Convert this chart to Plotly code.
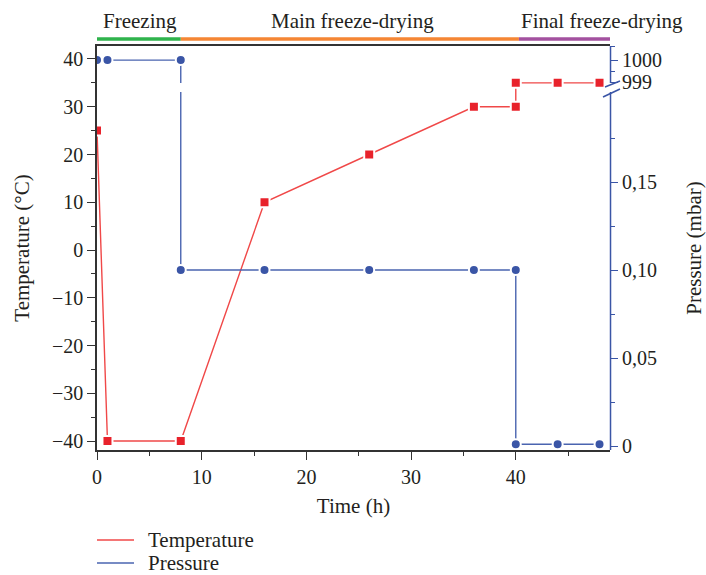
import plotly.graph_objects as go

# ---------------- data ----------------
temp_time = [0, 1, 8, 16, 26, 36, 40, 40, 44, 48]
temp_vals = [25, -40, -40, 10, 20, 30, 30, 35, 35, 35]

pres_time = [0, 1, 8, 8, 16, 26, 36, 40, 40, 44, 48]
pres_vals = [1000, 1000, 1000, 0.10, 0.10, 0.10, 0.10, 0.10, 0.001, 0.001, 0.001]

series_names = ["Temperature", "Pressure"]

phase_names = ["Freezing", "Main freeze-drying", "Final freeze-drying"]
phase_bounds = [0, 8, 40.3, 49]
phase_colors = ["#2fb34c", "#f58634", "#a3519f"]

left_ticks = [-40, -30, -20, -10, 0, 10, 20, 30, 40]
x_ticks = [0, 10, 20, 30, 40]
p_ticks_low = [0, 0.05, 0.10, 0.15]
p_ticks_low_text = ["0", "0,05", "0,10", "0,15"]
p_ticks_high = [999, 1000]
p_ticks_high_text = ["999", "1000"]

# broken-axis transform for the pressure axis
BREAK_BASE = 0.2068
HIGH_STEP = 0.0125


def pmap(p):
    if p >= 999:
        return BREAK_BASE + (p - 999) * HIGH_STEP
    return p


RED = "#e8222b"
RED_LINE = "#f04848"
BLUE = "#3a55a6"
BLUE_LINE = "#4a64b0"
INK = "#231f20"
FONT = "Liberation Serif"

# plot-area pixel geometry (for paper-coordinate decorations)
PL, PR, PT, PB = 97, 610, 46, 450
PW, PH = PR - PL, PB - PT


def px(x):
    return (x - PL) / PW


def py(y):
    return (PB - y) / PH


fig = go.Figure()

fig.add_trace(go.Scatter(
    x=temp_time, y=temp_vals, mode="lines+markers", name=series_names[0],
    line=dict(color=RED_LINE, width=1.4),
    marker=dict(symbol="square", size=10, color=RED, line=dict(color="white", width=2)),
    showlegend=False, yaxis="y"))

fig.add_trace(go.Scatter(
    x=pres_time, y=[pmap(p) for p in pres_vals], mode="lines+markers", name=series_names[1],
    line=dict(color=BLUE_LINE, width=1.4),
    marker=dict(symbol="circle", size=10, color=BLUE, line=dict(color="white", width=2)),
    showlegend=False, yaxis="y2"))

shapes = []
annotations = []
# phase bars and labels
for i, name in enumerate(phase_names):
    x0, x1 = phase_bounds[i], phase_bounds[i + 1]
    shapes.append(dict(type="line", xref="x", yref="paper", x0=x0, x1=x1,
                       y0=py(39), y1=py(39), line=dict(color=phase_colors[i], width=3.5)))
label_x = [4.1, 24.4, 40.3]
label_anchor = ["center", "center", "left"]
for i, name in enumerate(phase_names):
    annotations.append(dict(text=name, xref="x", yref="paper", x=label_x[i], y=py(21),
                            xanchor=label_anchor[i], yanchor="middle", showarrow=False,
                            font=dict(family=FONT, size=21, color=INK)))

# right axis line with break
y_break_top = py(83)
y_break_bot = py(92)
shapes.append(dict(type="line", xref="paper", yref="paper", x0=1.001, x1=1.001,
                   y0=0, y1=y_break_bot, line=dict(color=BLUE, width=1.5)))
shapes.append(dict(type="line", xref="paper", yref="paper", x0=1.001, x1=1.001,
                   y0=y_break_top, y1=1, line=dict(color=BLUE, width=1.5)))
# gap in the pressure vertical line at the break
shapes.append(dict(type="rect", xref="x", yref="paper", x0=7.6, x1=8.4,
                   y0=y_break_bot, y1=y_break_top, fillcolor="white",
                   line=dict(width=0), layer="above"))
# break slashes
for (xa, ya, xb, yb) in [(603, 97, 620, 89), (605, 87, 620, 81)]:
    shapes.append(dict(type="line", xref="paper", yref="paper",
                       x0=px(xa), y0=py(ya), x1=px(xb), y1=py(yb),
                       line=dict(color=BLUE, width=1.5)))

# legend (drawn below the plot)
legend_colors = [RED_LINE, BLUE_LINE]
legend_y = [540, 563]
for name, col, ly in zip(series_names, legend_colors, legend_y):
    shapes.append(dict(type="line", xref="paper", yref="paper", x0=px(97), x1=px(134),
                       y0=py(ly), y1=py(ly), line=dict(color=col, width=1.4)))
    annotations.append(dict(text=name, xref="paper", yref="paper", x=px(146), y=py(ly),
                            xanchor="left", yanchor="middle", showarrow=False,
                            font=dict(family=FONT, size=21, color=INK)))

fig.update_layout(
    width=706, height=575,
    margin=dict(l=PL, r=706 - PR, t=PT, b=575 - PB),
    paper_bgcolor="white", plot_bgcolor="white",
    font=dict(family=FONT, size=21, color=INK),
    showlegend=False,
    xaxis=dict(range=[0, 49], tickvals=x_ticks, ticks="outside", ticklen=8, tickwidth=1.3,
               tickcolor="#333333", showline=True, linecolor="#333333", linewidth=1.5,
               mirror=True, showgrid=False, zeroline=False, automargin=False,
               tickfont=dict(size=20),
               minor=dict(tickvals=[5, 15, 25, 35, 45], ticks="outside", ticklen=4,
                          tickcolor="#333333", tickwidth=1.3),
               title=dict(text="Time (h)", standoff=12, font=dict(size=21))),
    yaxis=dict(range=[-41.88, 42.72], tickvals=left_ticks, ticks="outside", ticklen=8,
               tickwidth=1.3, tickcolor="#333333", showline=True, linecolor="#333333",
               linewidth=1.5, showgrid=False, zeroline=False, automargin=False,
               tickfont=dict(size=20),
               minor=dict(tickvals=[-35, -25, -15, -5, 5, 15, 25, 35], ticks="outside",
                          ticklen=4, tickcolor="#333333", tickwidth=1.3),
               title=dict(text="Temperature (°C)", standoff=17, font=dict(size=21))),
    yaxis2=dict(range=[-0.00227, 0.2273], overlaying="y", side="right",
                tickvals=p_ticks_low + [pmap(v) for v in p_ticks_high],
                ticktext=p_ticks_low_text + p_ticks_high_text,
                ticks="outside", ticklen=7, tickwidth=1.3, tickcolor=BLUE,
                showline=False, showgrid=False, zeroline=False, automargin=False,
                tickfont=dict(size=20),
                minor=dict(tickvals=[0.025, 0.075, 0.125, 0.175, pmap(999.5), pmap(1000.6)],
                           ticks="outside", ticklen=4, tickcolor=BLUE, tickwidth=1.3),
                title=dict(text="Pressure (mbar)", standoff=25, font=dict(size=21))),
    shapes=shapes,
    annotations=annotations,
)

fig.write_html("out.html", config={"displayModeBar": False},
               post_script="document.body.style.margin='0px';")
